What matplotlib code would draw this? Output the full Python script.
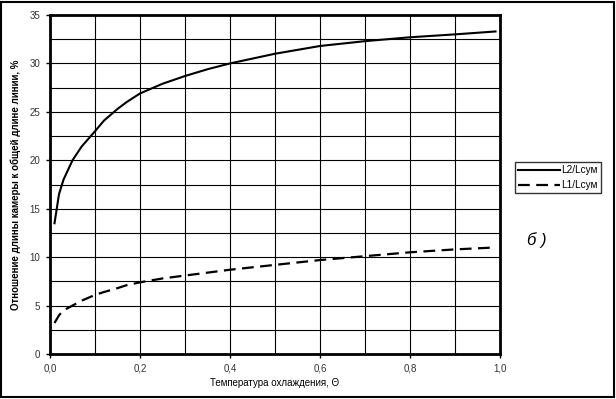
import matplotlib
matplotlib.use("Agg")
import matplotlib.pyplot as plt
from matplotlib.patches import Rectangle
from matplotlib.ticker import MultipleLocator, FuncFormatter

plt.rcParams['font.family'] = ['Liberation Sans', 'DejaVu Sans']

# values
theta = [0.01, 0.02, 0.03, 0.05, 0.07, 0.1, 0.12, 0.15, 0.17, 0.2, 0.25,
         0.3, 0.35, 0.4, 0.5, 0.6, 0.7, 0.8, 0.9, 0.99]
l2 = [13.5, 16.5, 18.0, 20.0, 21.4, 23.0, 24.1, 25.3, 26.0, 26.9, 27.9,
      28.7, 29.4, 30.0, 31.0, 31.8, 32.3, 32.7, 33.0, 33.3]
l1 = [3.2, 4.0, 4.5, 5.0, 5.5, 6.1, 6.4, 6.8, 7.1, 7.4, 7.8,
      8.1, 8.4, 8.7, 9.2, 9.7, 10.1, 10.5, 10.8, 11.0]

fig = plt.figure(figsize=(6.16, 3.99), dpi=100)
ax = fig.add_axes([50 / 616, 45 / 399, 450 / 616, 339 / 399])

ax.plot(theta, l2, color='black', lw=1.5, label='L2/Lсум')
ax.plot(theta, l1, color='black', lw=1.6, dashes=(5.3, 2.9), label='L1/Lсум')

ax.set_xlim(0, 1)
ax.set_ylim(0, 35)
ax.xaxis.set_major_locator(MultipleLocator(0.2))
ax.xaxis.set_minor_locator(MultipleLocator(0.1))
ax.yaxis.set_major_locator(MultipleLocator(5))
ax.yaxis.set_minor_locator(MultipleLocator(2.5))
ax.xaxis.set_major_formatter(FuncFormatter(lambda v, p: f'{v:.1f}'.replace('.', ',')))
ax.yaxis.set_major_formatter(FuncFormatter(lambda v, p: f'{v:.0f}'))
ax.grid(True, which='both', color='black', lw=0.8)
ax.set_axisbelow(True)
ax.tick_params(which='major', direction='out', length=3, width=1, labelsize=7,
               labelcolor='#333333', pad=4)
ax.tick_params(which='minor', length=0)
for s in ax.spines.values():
    s.set_linewidth(2)

ax.set_xlabel('Температура охлаждения, Θ', fontsize=7, labelpad=3)
ax.set_ylabel('Отношение длины камеры к общей длине линии, %', fontsize=7,
              fontweight='bold', labelpad=6)

leg = fig.legend(loc='upper left', bbox_to_anchor=(515 / 616, 1 - 162 / 399),
                 fontsize=7.2, frameon=True, fancybox=False, handlelength=4.2,
                 borderpad=0.3, labelspacing=0.5, handletextpad=0.1,
                 borderaxespad=0)
leg.get_frame().set_edgecolor('black')
leg.get_frame().set_linewidth(1)

fig.text(527 / 616, 1 - 240 / 399, 'б )', fontsize=12, style='italic',
         va='center')

fig.patches.append(Rectangle((1 / 616, 2 / 399), 613 / 616, 395 / 399,
                             transform=fig.transFigure, fill=False,
                             edgecolor='black', lw=1.5))

fig.savefig('out.png', dpi=100)
